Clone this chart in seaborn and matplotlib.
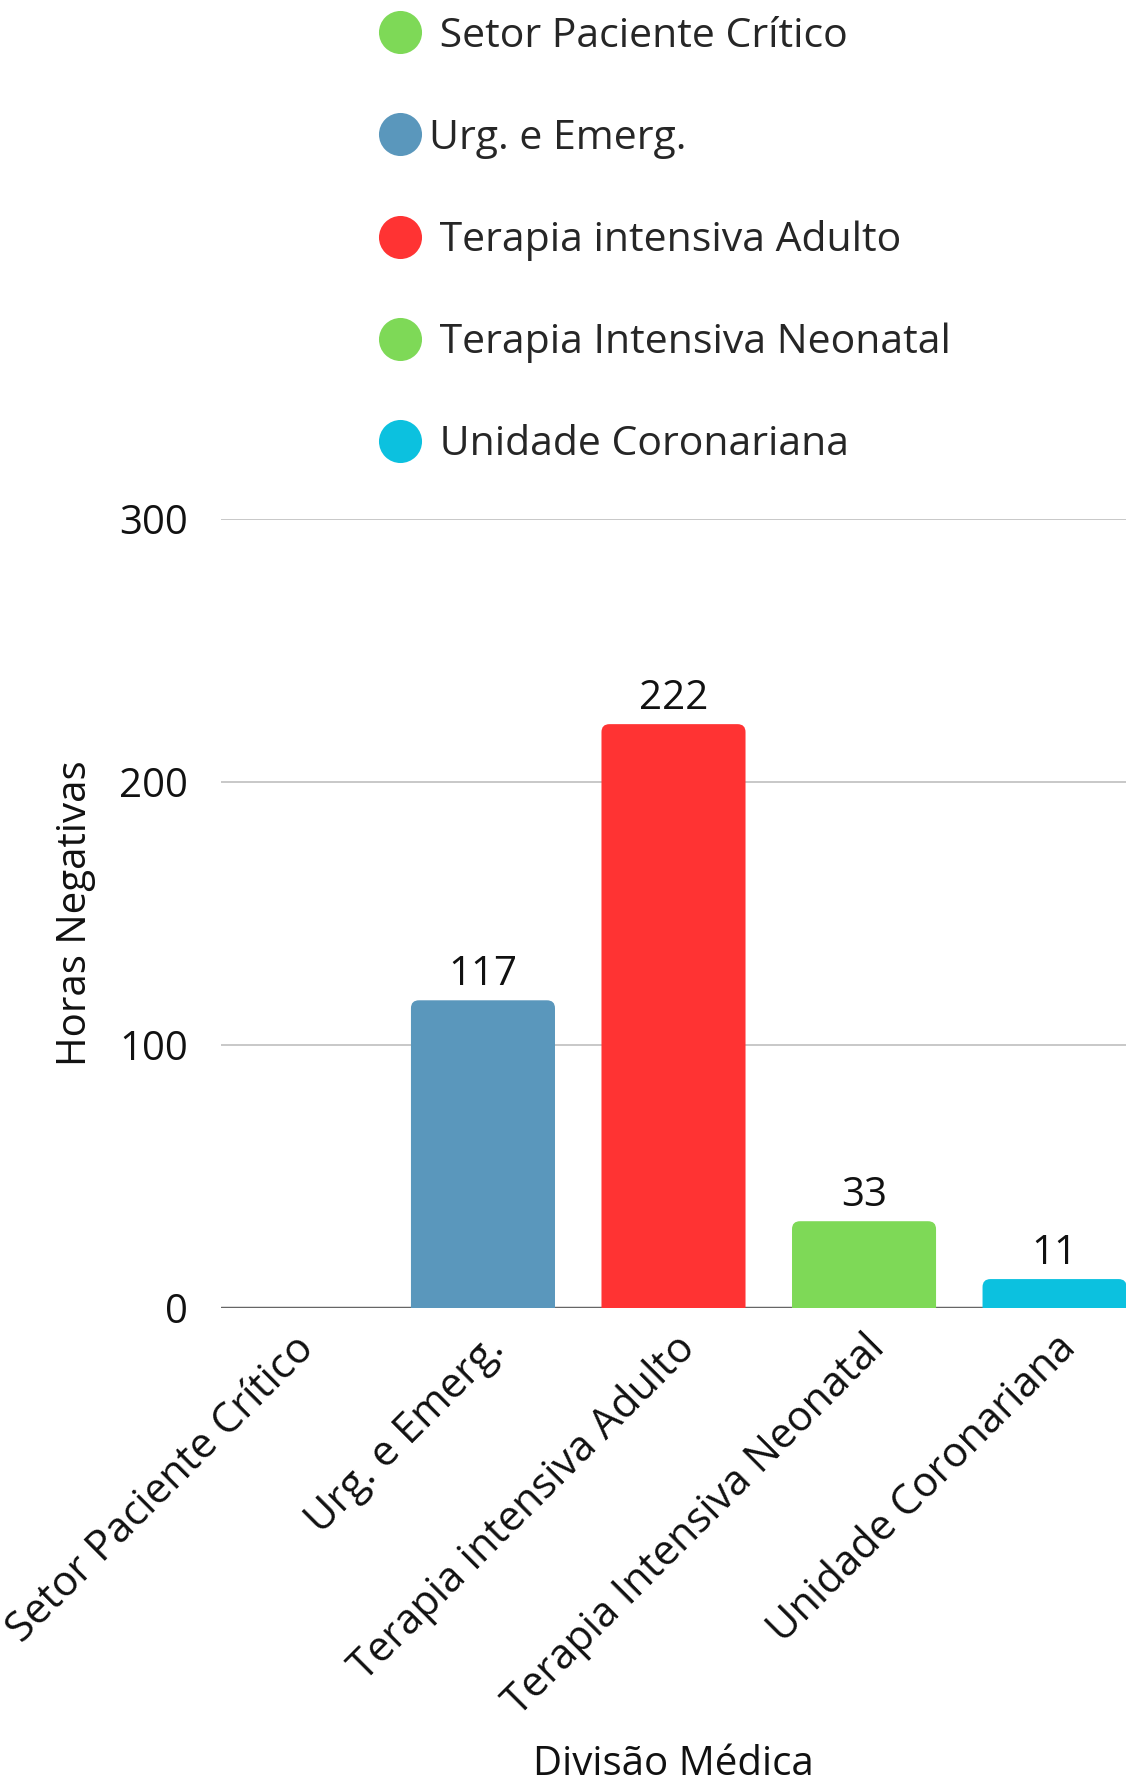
import matplotlib
matplotlib.use("Agg")
import matplotlib.pyplot as plt
from matplotlib.lines import Line2D
from matplotlib.patches import FancyBboxPatch
import seaborn as sns

# data
categories = ["Setor Paciente Crítico", "Urg. e Emerg.", "Terapia intensiva Adulto",
              "Terapia Intensiva Neonatal", "Unidade Coronariana"]
horas = [0, 117, 222, 33, 11]
colors = ["#7ED957", "#5A97BC", "#FF3333", "#7ED957", "#0CC1DF"]
legend_labels = [" Setor Paciente Crítico", "Urg. e Emerg.", " Terapia intensiva Adulto",
                 " Terapia Intensiva Neonatal", " Unidade Coronariana"]
yticks = [0, 100, 200, 300]

sns.set_style("white")
plt.rcParams["font.family"] = ["Open Sans", "DejaVu Sans"]

W, H = 1126, 1789
fig = plt.figure(figsize=(W / 100, H / 100), dpi=100)
ax = fig.add_axes([221 / W, (H - 1308) / H, (W - 221) / W, (1308 - 519) / H])

sns.barplot(x=categories, y=horas, hue=categories, palette=colors, legend=False,
            width=0.756, saturation=1, ax=ax, zorder=2)

# rounded tops: rebuild each bar from seaborn's own patch geometry
ax.set_xlim(-0.375, 4.375)
ax.set_ylim(0, 300)
ry = 3.0
for p in list(ax.patches):
    x0, w, h = p.get_x(), p.get_width(), p.get_height()
    if h <= 0:
        p.remove()
        continue
    fb = FancyBboxPatch((x0, -ry * 2), w, h + ry * 2,
                        boxstyle="round,pad=0,rounding_size=0.042",
                        mutation_aspect=ry / 0.042,
                        facecolor=p.get_facecolor(), edgecolor="none", zorder=2)
    p.remove()
    ax.add_patch(fb)

# value labels
for i, v in enumerate(horas):
    if v:
        ax.annotate(str(v), (i, v), xytext=(0, 4), textcoords="offset points",
                    ha="center", va="bottom", fontsize=29, color="#111111")

ax.set_yticks(yticks)
ax.yaxis.grid(True, color="#C8C8C8", lw=1.4)
ax.set_axisbelow(True)
ax.axhline(0, color="#666666", lw=2.5, zorder=1)
for s in ax.spines.values():
    s.set_visible(False)

ax.tick_params(axis="y", length=0, pad=24, labelsize=29, labelcolor="#111111")
ax.tick_params(axis="x", length=0, pad=14, labelsize=30, labelcolor="#111111")
ax.set_xticks(range(len(categories)))
ax.set_xticklabels(categories, rotation=45, ha="right", rotation_mode="anchor")

ax.set_ylabel("Horas Negativas", fontsize=29, color="#111111")
ax.yaxis.set_label_coords(-0.138, 0.5)
ax.set_xlabel("Divisão Médica", fontsize=29, color="#111111")
ax.xaxis.set_label_coords(0.5, -0.553)

handles = [Line2D([], [], marker="o", ls="", markersize=31, markeredgewidth=0, color=c)
           for c in colors]
fig.legend(handles, legend_labels, loc="upper left", bbox_to_anchor=(380 / W, 0.991),
           frameon=False, handlelength=1.0, handletextpad=0.2, labelspacing=1.50,
           borderpad=0, borderaxespad=0, fontsize=29.5)

fig.savefig("out.png", dpi=100)
